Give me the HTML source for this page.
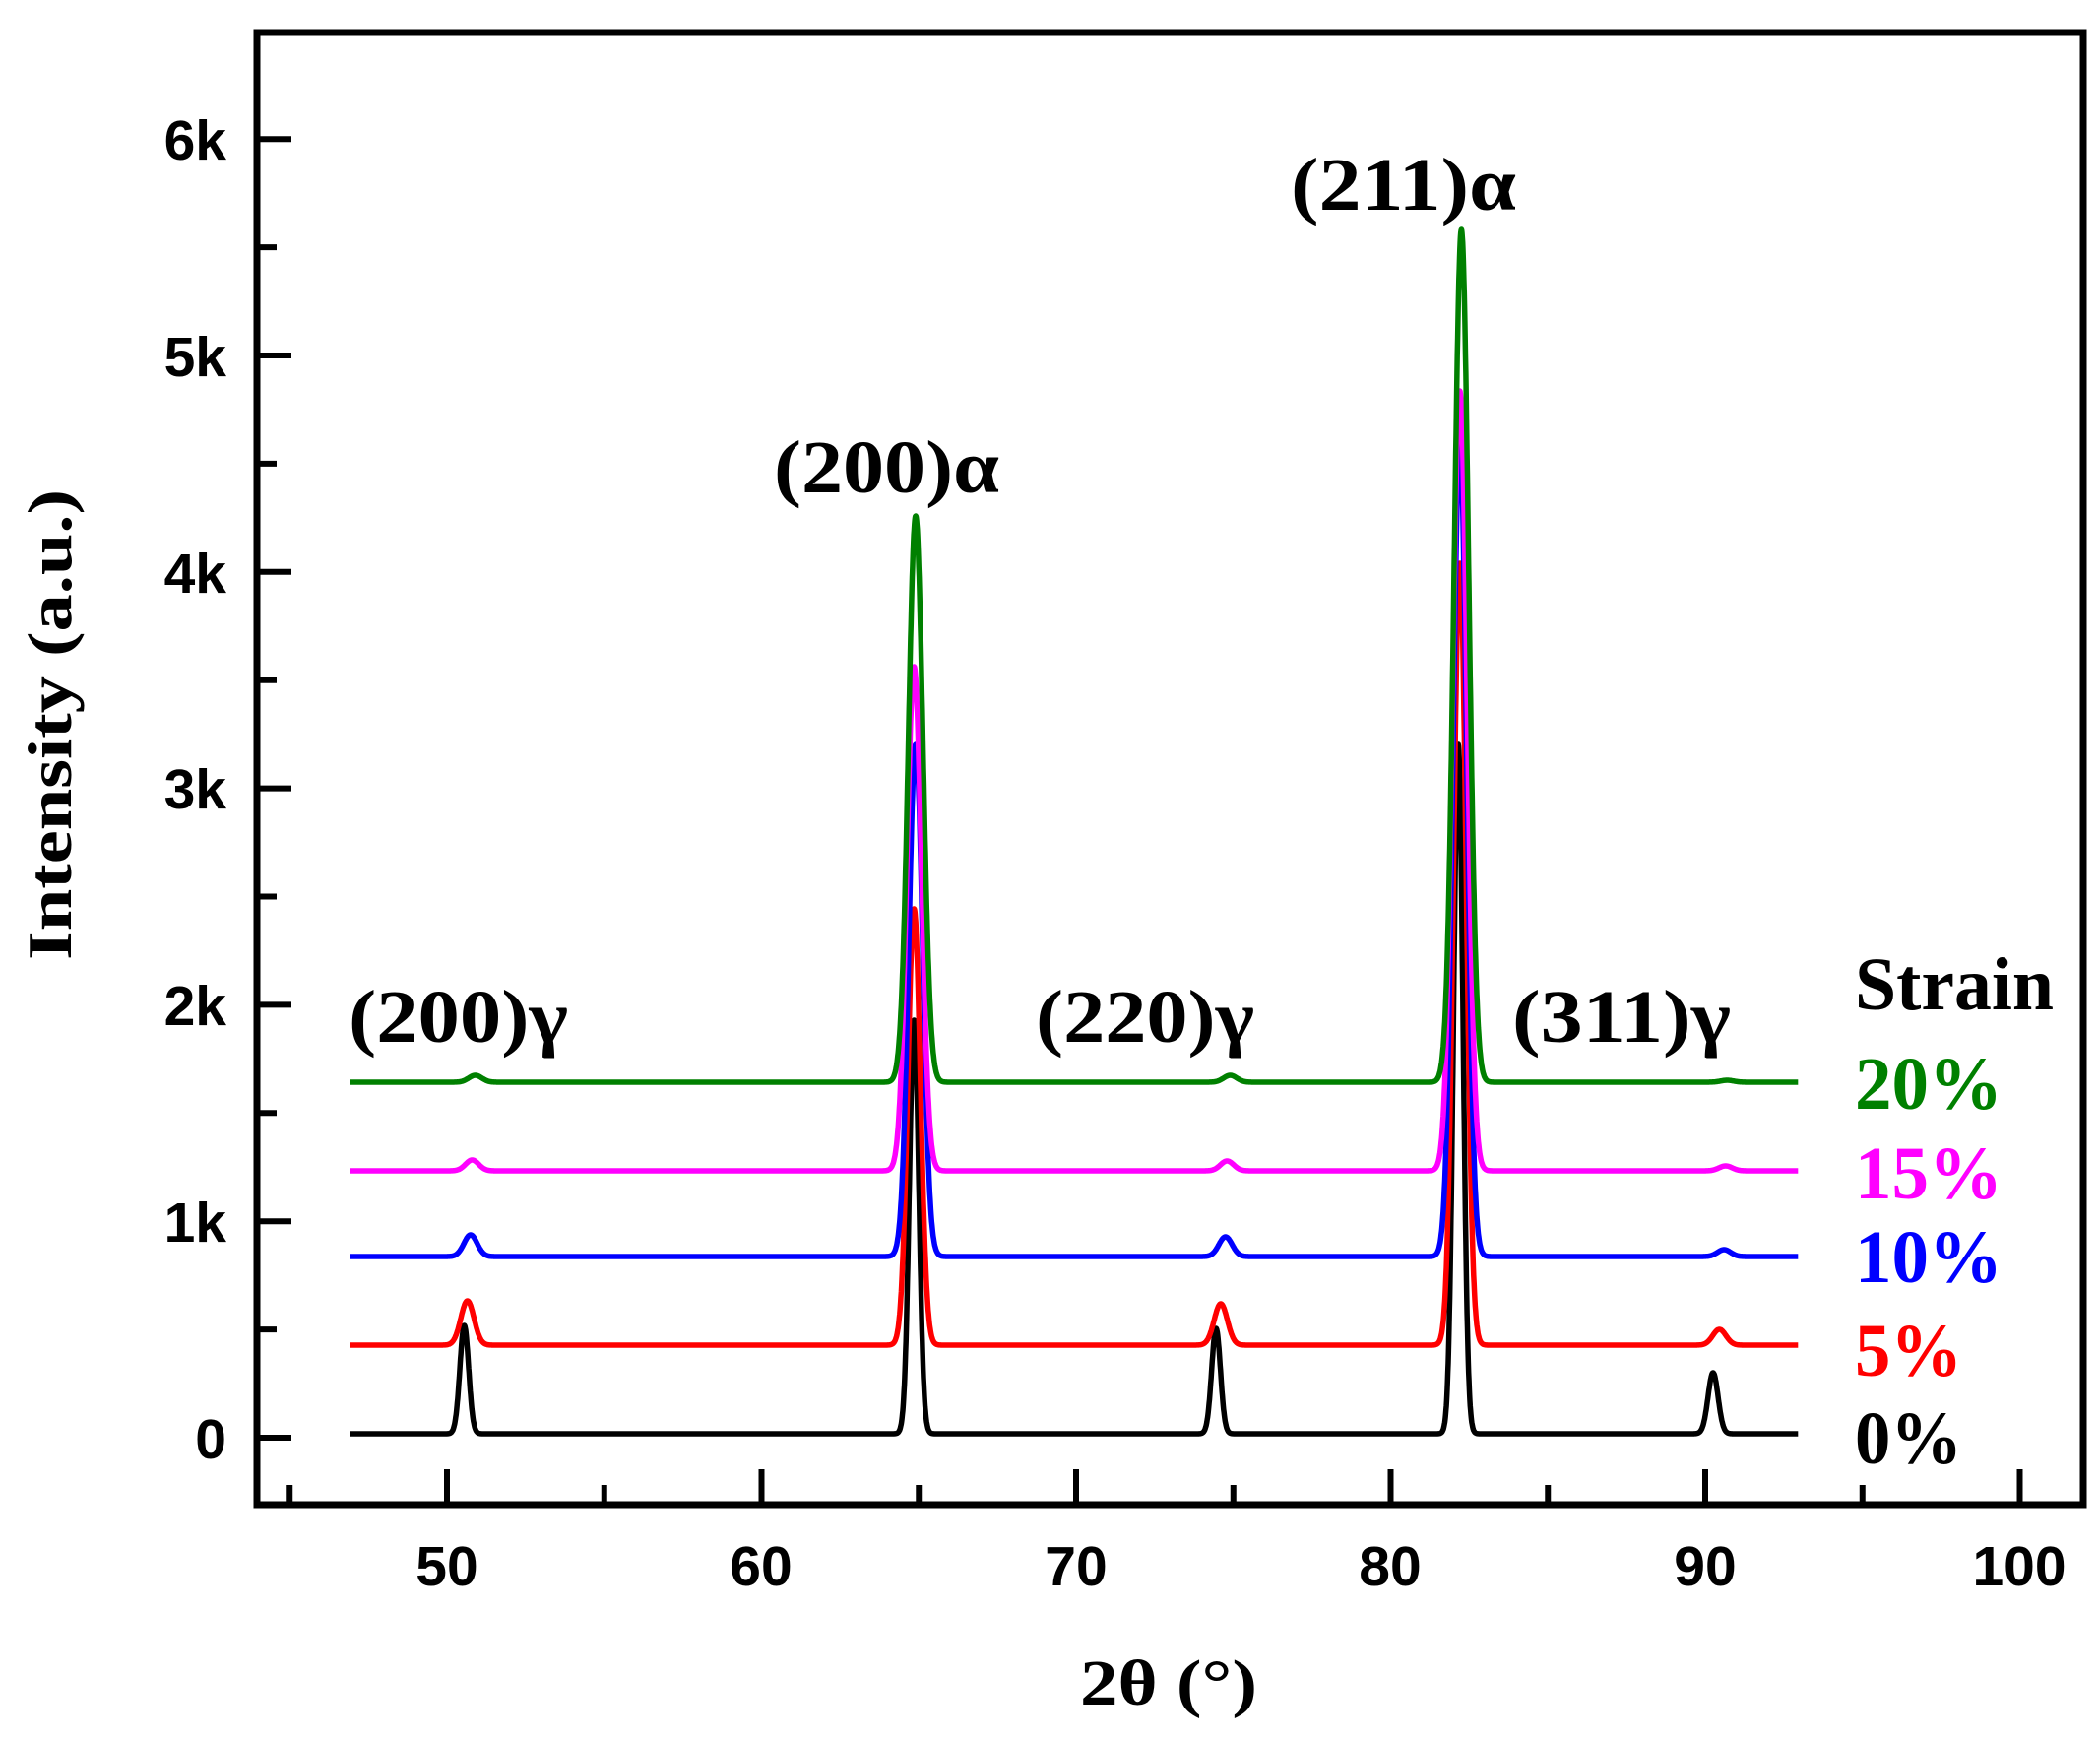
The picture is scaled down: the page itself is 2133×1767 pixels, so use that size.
<!DOCTYPE html>
<html><head><meta charset="utf-8"><style>
html,body{margin:0;padding:0;background:#fff;}
svg{display:block;}
.t{font-family:"Liberation Sans",Arial,sans-serif;font-weight:bold;font-size:57px;fill:#000;}
.s{font-family:"Liberation Serif","Times New Roman",serif;font-weight:bold;}
</style></head><body>
<svg id="c" width="2133" height="1767" viewBox="0 0 2133 1767" xmlns="http://www.w3.org/2000/svg">
<rect width="2133" height="1767" fill="#fff"/>
<g id="series" fill="none" stroke-width="5.5" stroke-linejoin="round"></g>
<rect x="261" y="33" width="1855" height="1495" fill="none" stroke="#000" stroke-width="7"/>
<g id="ticks" stroke="#000" stroke-width="6"></g>
<g class="t" text-anchor="end">
<text x="230" y="1481">0</text>
<text x="230" y="1261">1k</text>
<text x="230" y="1041">2k</text>
<text x="230" y="821">3k</text>
<text x="230" y="602">4k</text>
<text x="230" y="382">5k</text>
<text x="230" y="162">6k</text>
</g>
<g class="t" text-anchor="middle">
<text x="454" y="1610">50</text>
<text x="773" y="1610">60</text>
<text x="1093" y="1610">70</text>
<text x="1412" y="1610">80</text>
<text x="1732" y="1610">90</text>
<text x="2051" y="1610">100</text>
</g>
<text class="s" x="0" y="0" font-size="64" text-anchor="middle" transform="translate(72,736) rotate(-90)" textLength="478" lengthAdjust="spacingAndGlyphs">Intensity (a.u.)</text>
<text class="s" x="1097" y="1731" font-size="66" textLength="180" lengthAdjust="spacingAndGlyphs">2θ (°)</text>
<g class="s" font-size="76">
<text x="354" y="1058" textLength="223" lengthAdjust="spacingAndGlyphs">(200)γ</text>
<text x="786" y="500" textLength="229" lengthAdjust="spacingAndGlyphs">(200)α</text>
<text x="1311" y="213" textLength="229" lengthAdjust="spacingAndGlyphs">(211)α</text>
<text x="1052" y="1058" textLength="222" lengthAdjust="spacingAndGlyphs">(220)γ</text>
<text x="1536" y="1058" textLength="222" lengthAdjust="spacingAndGlyphs">(311)γ</text>
</g>
<g class="s" font-size="76">
<text x="1884" y="1025" textLength="202" lengthAdjust="spacingAndGlyphs">Strain</text>
<text x="1884" y="1126" fill="#008000" textLength="150" lengthAdjust="spacingAndGlyphs">20%</text>
<text x="1884" y="1217" fill="#ff00ff" textLength="150" lengthAdjust="spacingAndGlyphs">15%</text>
<text x="1884" y="1302" fill="#0000ff" textLength="150" lengthAdjust="spacingAndGlyphs">10%</text>
<text x="1884" y="1397" fill="#ff0000" textLength="109" lengthAdjust="spacingAndGlyphs">5%</text>
<text x="1884" y="1486" textLength="109" lengthAdjust="spacingAndGlyphs">0%</text>
</g>
<script>
(function(){
var NS="http://www.w3.org/2000/svg";
function X(v){return 454+(v-50)*31.95;}
var tk=document.getElementById("ticks");
function ln(x1,y1,x2,y2){var l=document.createElementNS(NS,"line");l.setAttribute("x1",x1);l.setAttribute("y1",y1);l.setAttribute("x2",x2);l.setAttribute("y2",y2);tk.appendChild(l);}
for(var k=0;k<=6;k++){var y=1460-k*219.8;ln(261,y,296,y);if(k<6){ln(261,y-109.9,281,y-109.9);}}
for(var v=45;v<=100;v+=5){var x=X(v);if(v%10==0)ln(x,1528,x,1492);else ln(x,1528,x,1508);}
var S=[
 {c:"#000000",b:1456,p:[[50.55,110,0.14],[64.85,420,0.15],[74.45,107,0.14],[82.15,700,0.15],[90.25,62,0.16]]},
 {c:"#ff0000",b:1366,p:[[50.65,45,0.21],[64.85,443,0.2],[74.6,42,0.21],[82.2,794,0.2],[90.45,16,0.21]]},
 {c:"#0000ff",b:1276,p:[[50.75,22,0.21],[64.9,520,0.22],[74.75,20,0.21],[82.2,826,0.22],[90.6,7,0.21]]},
 {c:"#ff00ff",b:1189,p:[[50.8,11,0.21],[64.85,512,0.23],[74.8,10,0.21],[82.2,792,0.23],[90.65,5,0.21]]},
 {c:"#008000",b:1099,p:[[50.9,7,0.21],[64.9,575,0.23],[74.9,7,0.21],[82.25,866,0.23],[90.7,2,0.21]]}
];
var g=document.getElementById("series");
S.forEach(function(s){
 var d="";
 for(var v=46.9;v<=92.96;v+=0.01){
  var y=s.b;
  s.p.forEach(function(p){var z=(v-p[0])/p[2];y-=p[1]*Math.exp(-0.5*z*z);});
  d+=(d?"L":"M")+X(v).toFixed(1)+" "+y.toFixed(1);
 }
 var pa=document.createElementNS(NS,"path");pa.setAttribute("d",d);pa.setAttribute("stroke",s.c);g.appendChild(pa);
});
})();
</script>
</svg>
</body></html>
